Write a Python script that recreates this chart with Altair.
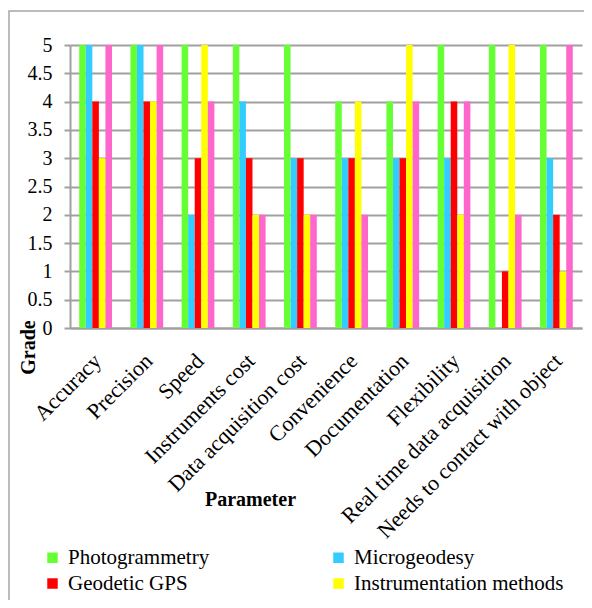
import altair as alt
import pandas as pd

categories = ["Accuracy", "Precision", "Speed", "Instruments cost", "Data acquisition cost",
              "Convenience", "Documentation", "Flexibility", "Real time data acquisition",
              "Needs to contact with object"]
series = ["Photogrammetry", "Microgeodesy", "Geodetic GPS", "Instrumentation methods", "Laser scanner"]
colors = ["#66FF33", "#33CCFF", "#FF0000", "#FFFF00", "#FF66CC"]
# legend order (filled column by column, so rows read left-to-right as in the reference)
legend_order = ["Photogrammetry", "Geodetic GPS", "Laser scanner", "Microgeodesy", "Instrumentation methods"]
legend_colors = ["#66FF33", "#FF0000", "#FF66CC", "#33CCFF", "#FFFF00"]

photogrammetry = [5, 5, 5, 5, 5, 4, 4, 5, 5, 5]
microgeodesy = [5, 5, 2, 4, 3, 3, 3, 3, 0, 3]
geodetic_gps = [4, 4, 3, 3, 3, 3, 3, 4, 1, 2]
instrumentation = [3, 4, 5, 2, 2, 4, 5, 2, 5, 1]
laser_scanner = [5, 5, 4, 2, 2, 2, 4, 4, 2, 5]

y_ticks = [0, 0.5, 1, 1.5, 2, 2.5, 3, 3.5, 4, 4.5, 5]

rows = []
for s, vals in zip(series, [photogrammetry, microgeodesy, geodetic_gps, instrumentation, laser_scanner]):
    for c, v in zip(categories, vals):
        rows.append({"Parameter": c, "Method": s, "Grade": v})
df = pd.DataFrame(rows)

FONT = "Times New Roman, Liberation Serif, DejaVu Serif, serif"

frame = alt.Chart(pd.DataFrame({"a": [0]})).mark_rect(
    fill="transparent", stroke="#A6A6A6", strokeWidth=1.5
).encode(x=alt.value(-61), x2=alt.value(700), y=alt.value(-34), y2=alt.value(700))

bars = alt.Chart(df).mark_bar(stroke=None).encode(
    x=alt.X("Parameter:N", sort=categories,
            scale=alt.Scale(paddingInner=0.36, paddingOuter=0.18),
            axis=alt.Axis(title="Parameter", labelAngle=315, labelAlign="right",
                          labelBaseline="middle", labelPadding=29, labelOffset=2,
                          labelFont=FONT, labelFontSize=22, labelColor="black",
                          labelLimit=400, ticks=False, domainColor="#A0A0A0", domainWidth=2,
                          titleFont=FONT, titleFontSize=20, titleFontWeight="bold",
                          titleColor="black", titleX=180, titleY=171, titleAnchor="middle",
                          titleBaseline="middle")),
    xOffset=alt.XOffset("Method:N", sort=series, scale=alt.Scale(paddingInner=0, paddingOuter=0)),
    y=alt.Y("Grade:Q", scale=alt.Scale(domain=[0, 5], nice=False),
            axis=alt.Axis(title="Grade", values=y_ticks, format="~g",
                          labelFont=FONT, labelFontSize=20, labelColor="black", labelPadding=12,
                          tickColor="#A0A0A0", tickSize=6, tickWidth=2,
                          domainColor="#A0A0A0", domainWidth=2,
                          gridColor="#A0A0A0", gridWidth=2,
                          titleFont=FONT, titleFontSize=20, titleFontWeight="bold",
                          titleColor="black", titleAngle=270, titleX=-42, titleY=302,
                          titleAlign="center", titleBaseline="middle")),
    color=alt.Color("Method:N",
                    scale=alt.Scale(domain=legend_order, range=legend_colors),
                    legend=alt.Legend(title=None, orient="none", legendX=-28, legendY=502,
                                      columns=2, columnPadding=118, rowPadding=4,
                                      symbolType="square", symbolSize=110, symbolStrokeWidth=0,
                                      labelFont=FONT, labelFontSize=21, labelColor="black",
                                      labelOffset=5, labelLimit=400)),
)

chart = alt.layer(frame, bars).properties(
    width=512, height=283,
    autosize=alt.AutoSizeParams(type="none"),
    padding={"left": 62, "top": 37, "right": 2, "bottom": 272},
).configure(font=FONT).configure_axis(labelFont=FONT, titleFont=FONT).configure_legend(
    labelFont=FONT).configure_view(stroke=None)

chart.save("out.html", embed_options={"renderer": "svg", "actions": False})
